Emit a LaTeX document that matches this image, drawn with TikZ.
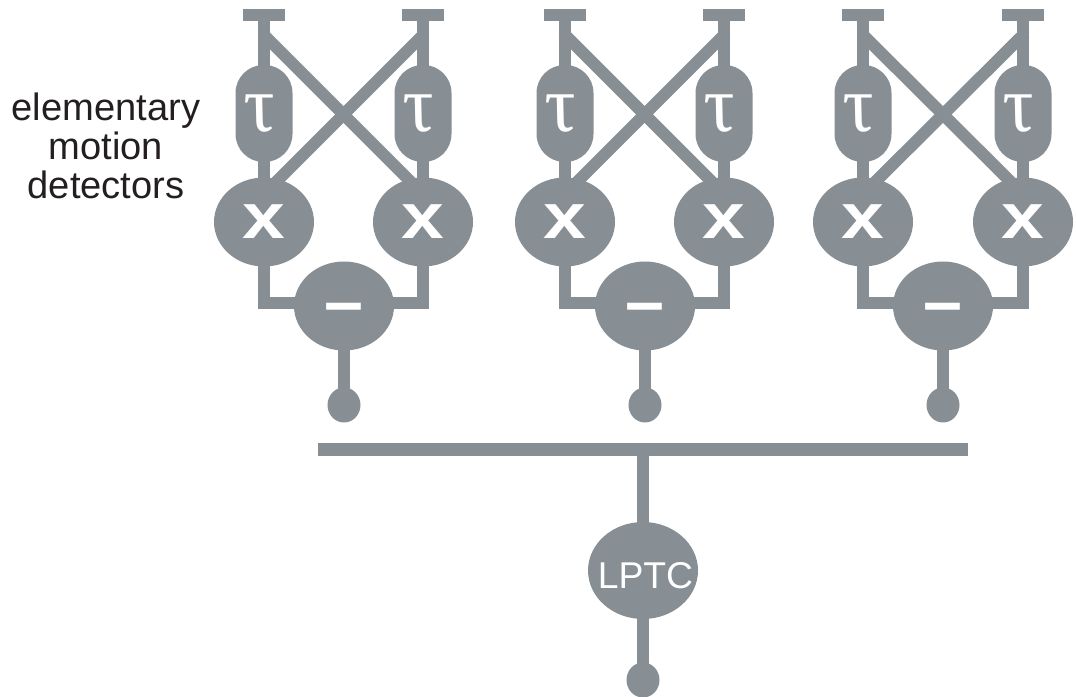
\documentclass[tikz,border=0pt]{standalone}
\usepackage{fontspec}
\setmainfont{Liberation Sans}
\newfontfamily\taufont[FakeSlant=-0.2]{Liberation Serif Italic}
\usetikzlibrary{positioning,shapes.geometric}
\definecolor{nerve}{HTML}{888F94}
\definecolor{inktext}{HTML}{231F20}
\begin{document}
\begin{tikzpicture}[x=1pt,y=1pt,on grid,
                wire/.style={draw=nerve,line width=12pt,shorten >=-3pt,shorten <=-3pt},
                inbar/.style={rectangle,fill=nerve,inner sep=0pt,minimum width=42pt,minimum height=12pt},
                delay/.style={rectangle,rounded corners=28pt,fill=nerve,text=white,inner sep=0pt,
                  minimum width=57pt,minimum height=97pt,font=\fontsize{80}{80}\selectfont\taufont},
                mult/.style={ellipse,fill=nerve,text=white,inner sep=0pt,
                  minimum width=100pt,minimum height=89pt,font=\fontsize{64}{64}\selectfont\bfseries},
                subtr/.style={mult,font=\fontsize{70}{70}\selectfont\bfseries},
                endbulb/.style={ellipse,fill=nerve,inner sep=0pt,minimum width=33pt,minimum height=35pt}
                ]
                \useasboundingbox (0,0) rectangle (1076,696);
                % first detector
                \node [inbar] at (264,681) (tl1) {};
                \node [inbar, right=159pt of tl1] (tr1) {};
                \node [delay, below=98.5pt of tl1] (ul1) {τ};
                \node [delay, below=98.5pt of tr1] (ur1) {τ};
                \node [mult, below=108.5pt of ul1] (xl1) {\scalebox{1.2}[1]{x}};
                \node [mult, below=108.5pt of ur1] (xr1) {\scalebox{1.2}[1]{x}};
                \node [subtr, below right=84pt and 80pt of xl1] (m1) {\raisebox{-19.4pt}[0pt][0pt]{–}};
                \node [endbulb, below=99pt of m1] (d1) {};
                \coordinate [below=20pt of tl1] (cl1);
                \coordinate [below=20pt of tr1] (cr1);
                \coordinate [above left=33pt and 5pt of xr1] (el1);
                \coordinate [above right=33pt and 5pt of xl1] (er1);
                \draw [wire] (tl1) -- (ul1);
                \draw [wire] (tr1) -- (ur1);
                \draw [wire] (ul1) -- (xl1);
                \draw [wire] (ur1) -- (xr1);
                \draw [wire] (cl1) -- (el1);
                \draw [wire] (cr1) -- (er1);
                \draw [wire] (xl1) |- ([yshift=3pt]m1.west);
                \draw [wire] (xr1) |- ([yshift=3pt]m1.east);
                \draw [wire] (m1) -- (d1);
                % second detector
                \node [inbar, right=301pt of tl1] (tl2) {};
                \node [inbar, right=159pt of tl2] (tr2) {};
                \node [delay, below=98.5pt of tl2] (ul2) {τ};
                \node [delay, below=98.5pt of tr2] (ur2) {τ};
                \node [mult, below=108.5pt of ul2] (xl2) {\scalebox{1.2}[1]{x}};
                \node [mult, below=108.5pt of ur2] (xr2) {\scalebox{1.2}[1]{x}};
                \node [subtr, below right=84pt and 80pt of xl2] (m2) {\raisebox{-19.4pt}[0pt][0pt]{–}};
                \node [endbulb, below=99pt of m2] (d2) {};
                \coordinate [below=20pt of tl2] (cl2);
                \coordinate [below=20pt of tr2] (cr2);
                \coordinate [above left=33pt and 5pt of xr2] (el2);
                \coordinate [above right=33pt and 5pt of xl2] (er2);
                \draw [wire] (tl2) -- (ul2);
                \draw [wire] (tr2) -- (ur2);
                \draw [wire] (ul2) -- (xl2);
                \draw [wire] (ur2) -- (xr2);
                \draw [wire] (cl2) -- (el2);
                \draw [wire] (cr2) -- (er2);
                \draw [wire] (xl2) |- ([yshift=3pt]m2.west);
                \draw [wire] (xr2) |- ([yshift=3pt]m2.east);
                \draw [wire] (m2) -- (d2);
                % third detector
                \node [inbar, right=599pt of tl1] (tl3) {};
                \node [inbar, right=160pt of tl3] (tr3) {};
                \node [delay, below=98.5pt of tl3] (ul3) {τ};
                \node [delay, below=98.5pt of tr3] (ur3) {τ};
                \node [mult, below=108.5pt of ul3] (xl3) {\scalebox{1.2}[1]{x}};
                \node [mult, below=108.5pt of ur3] (xr3) {\scalebox{1.2}[1]{x}};
                \node [subtr, below right=84pt and 80pt of xl3] (m3) {\raisebox{-19.4pt}[0pt][0pt]{–}};
                \node [endbulb, below=99pt of m3] (d3) {};
                \coordinate [below=20pt of tl3] (cl3);
                \coordinate [below=20pt of tr3] (cr3);
                \coordinate [above left=33pt and 5pt of xr3] (el3);
                \coordinate [above right=33pt and 5pt of xl3] (er3);
                \draw [wire] (tl3) -- (ul3);
                \draw [wire] (tr3) -- (ur3);
                \draw [wire] (ul3) -- (xl3);
                \draw [wire] (ur3) -- (xr3);
                \draw [wire] (cl3) -- (el3);
                \draw [wire] (cr3) -- (er3);
                \draw [wire] (xl3) |- ([yshift=3pt]m3.west);
                \draw [wire] (xr3) |- ([yshift=3pt]m3.east);
                \draw [wire] (m3) -- (d3);
                % collecting cell
                \node [rectangle, fill=nerve, inner sep=0pt, minimum width=650pt, minimum height=13pt,
                  below left=44.5pt and 2pt of d2] (bar) {};
                \node [ellipse, fill=nerve, text=white, inner xsep=-14pt, inner ysep=0pt, minimum width=110pt, minimum height=97pt,
                  font=\fontsize{37.3}{37.3}\selectfont, below=121pt of bar] (lptc) {\kern5pt\raisebox{-18.5pt}[0pt][0pt]{LPTC}};
                \node [endbulb, below=109.5pt of lptc] (d4) {};
                \draw [wire] (bar) -- (lptc);
                \draw [wire] (lptc) -- (d4);
                \node [below left=131pt and 158pt of tl1, align=center, text=inktext,
                  font=\fontsize{38.1}{39}\selectfont] (name) {elementary\\motion\\detectors};
\end{tikzpicture}
\end{document}
